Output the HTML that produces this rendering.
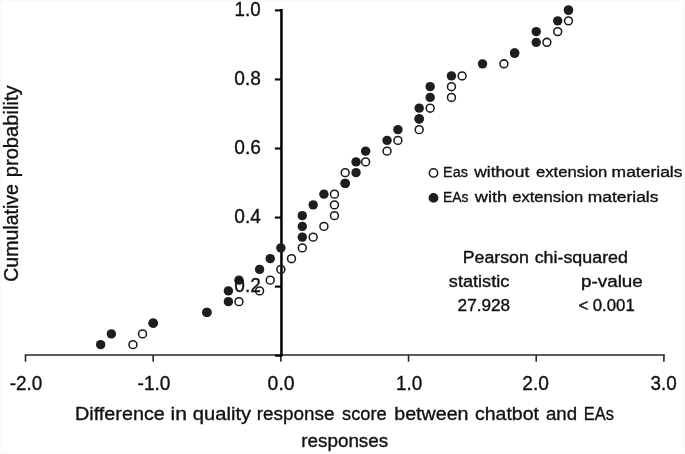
<!DOCTYPE html>
<html><head><meta charset="utf-8"><title>Chart</title>
<style>
html,body{margin:0;padding:0;background:#fff;}
body{width:685px;height:454px;overflow:hidden;}
svg{display:block;filter:blur(0.3px);font-family:"Liberation Sans",sans-serif;fill:#111;}
text{stroke:#111;stroke-width:0.35px;}
</style></head>
<body>
<svg width="685" height="454" viewBox="0 0 685 454">
<rect x="0" y="0" width="685" height="454" fill="#fafafa"/>
<rect x="2" y="2" width="681" height="450" fill="#ffffff"/>
<line x1="24.8" y1="355" x2="664.8" y2="355" stroke="#262626" stroke-width="1.6"/>
<line x1="25.50" y1="355" x2="25.50" y2="361.7" stroke="#262626" stroke-width="1.6"/>
<line x1="153.18" y1="355" x2="153.18" y2="361.7" stroke="#262626" stroke-width="1.6"/>
<line x1="280.86" y1="355" x2="280.86" y2="361.7" stroke="#262626" stroke-width="1.6"/>
<line x1="408.54" y1="355" x2="408.54" y2="361.7" stroke="#262626" stroke-width="1.6"/>
<line x1="536.22" y1="355" x2="536.22" y2="361.7" stroke="#262626" stroke-width="1.6"/>
<line x1="663.90" y1="355" x2="663.90" y2="361.7" stroke="#262626" stroke-width="1.6"/>
<line x1="281.45" y1="9.1" x2="281.45" y2="356.5" stroke="#000" stroke-width="2.5"/>
<line x1="274.9" y1="355.65" x2="281.65" y2="355.65" stroke="#000" stroke-width="2.1"/>
<line x1="274.9" y1="286.60" x2="281.65" y2="286.60" stroke="#000" stroke-width="2.1"/>
<line x1="274.9" y1="217.55" x2="281.65" y2="217.55" stroke="#000" stroke-width="2.1"/>
<line x1="274.9" y1="148.50" x2="281.65" y2="148.50" stroke="#000" stroke-width="2.1"/>
<line x1="274.9" y1="79.45" x2="281.65" y2="79.45" stroke="#000" stroke-width="2.1"/>
<line x1="274.9" y1="10.40" x2="281.65" y2="10.40" stroke="#000" stroke-width="2.1"/>
<circle cx="132.96" cy="344.65" r="3.95" fill="none" stroke="#1a1a1a" stroke-width="1.55"/>
<circle cx="142.54" cy="333.90" r="3.95" fill="none" stroke="#1a1a1a" stroke-width="1.55"/>
<circle cx="153.18" cy="323.15" r="3.95" fill="none" stroke="#1a1a1a" stroke-width="1.55"/>
<circle cx="206.91" cy="312.40" r="3.95" fill="none" stroke="#1a1a1a" stroke-width="1.55"/>
<circle cx="238.94" cy="301.65" r="3.95" fill="none" stroke="#1a1a1a" stroke-width="1.55"/>
<circle cx="259.58" cy="290.90" r="3.95" fill="none" stroke="#1a1a1a" stroke-width="1.55"/>
<circle cx="270.22" cy="280.15" r="3.95" fill="none" stroke="#1a1a1a" stroke-width="1.55"/>
<circle cx="280.86" cy="269.40" r="3.95" fill="none" stroke="#1a1a1a" stroke-width="1.55"/>
<circle cx="291.50" cy="258.65" r="3.95" fill="none" stroke="#1a1a1a" stroke-width="1.55"/>
<circle cx="302.29" cy="247.90" r="3.95" fill="none" stroke="#1a1a1a" stroke-width="1.55"/>
<circle cx="313.18" cy="237.15" r="3.95" fill="none" stroke="#1a1a1a" stroke-width="1.55"/>
<circle cx="323.92" cy="226.40" r="3.95" fill="none" stroke="#1a1a1a" stroke-width="1.55"/>
<circle cx="334.46" cy="215.65" r="3.95" fill="none" stroke="#1a1a1a" stroke-width="1.55"/>
<circle cx="334.46" cy="204.90" r="3.95" fill="none" stroke="#1a1a1a" stroke-width="1.55"/>
<circle cx="334.46" cy="194.15" r="3.95" fill="none" stroke="#1a1a1a" stroke-width="1.55"/>
<circle cx="345.20" cy="183.40" r="3.95" fill="none" stroke="#1a1a1a" stroke-width="1.55"/>
<circle cx="345.20" cy="172.65" r="3.95" fill="none" stroke="#1a1a1a" stroke-width="1.55"/>
<circle cx="365.63" cy="161.90" r="3.95" fill="none" stroke="#1a1a1a" stroke-width="1.55"/>
<circle cx="387.06" cy="151.15" r="3.95" fill="none" stroke="#1a1a1a" stroke-width="1.55"/>
<circle cx="397.90" cy="140.40" r="3.95" fill="none" stroke="#1a1a1a" stroke-width="1.55"/>
<circle cx="419.18" cy="129.65" r="3.95" fill="none" stroke="#1a1a1a" stroke-width="1.55"/>
<circle cx="419.18" cy="118.90" r="3.95" fill="none" stroke="#1a1a1a" stroke-width="1.55"/>
<circle cx="430.17" cy="108.15" r="3.95" fill="none" stroke="#1a1a1a" stroke-width="1.55"/>
<circle cx="451.45" cy="97.40" r="3.95" fill="none" stroke="#1a1a1a" stroke-width="1.55"/>
<circle cx="451.45" cy="86.65" r="3.95" fill="none" stroke="#1a1a1a" stroke-width="1.55"/>
<circle cx="462.09" cy="75.90" r="3.95" fill="none" stroke="#1a1a1a" stroke-width="1.55"/>
<circle cx="503.95" cy="63.85" r="3.95" fill="none" stroke="#1a1a1a" stroke-width="1.55"/>
<circle cx="514.64" cy="53.10" r="3.95" fill="none" stroke="#1a1a1a" stroke-width="1.55"/>
<circle cx="546.86" cy="42.35" r="3.95" fill="none" stroke="#1a1a1a" stroke-width="1.55"/>
<circle cx="557.70" cy="31.60" r="3.95" fill="none" stroke="#1a1a1a" stroke-width="1.55"/>
<circle cx="568.49" cy="20.85" r="3.95" fill="none" stroke="#1a1a1a" stroke-width="1.55"/>
<circle cx="568.49" cy="10.10" r="3.95" fill="none" stroke="#1a1a1a" stroke-width="1.55"/>
<circle cx="100.62" cy="344.65" r="4.7" fill="#1e1e1e"/>
<circle cx="111.36" cy="333.90" r="4.7" fill="#1e1e1e"/>
<circle cx="153.18" cy="323.15" r="4.7" fill="#1e1e1e"/>
<circle cx="206.91" cy="312.40" r="4.7" fill="#1e1e1e"/>
<circle cx="228.40" cy="301.65" r="4.7" fill="#1e1e1e"/>
<circle cx="228.40" cy="290.90" r="4.7" fill="#1e1e1e"/>
<circle cx="238.94" cy="280.15" r="4.7" fill="#1e1e1e"/>
<circle cx="259.58" cy="269.40" r="4.7" fill="#1e1e1e"/>
<circle cx="270.22" cy="258.65" r="4.7" fill="#1e1e1e"/>
<circle cx="280.86" cy="247.90" r="4.7" fill="#1e1e1e"/>
<circle cx="302.29" cy="237.15" r="4.7" fill="#1e1e1e"/>
<circle cx="302.29" cy="226.40" r="4.7" fill="#1e1e1e"/>
<circle cx="302.29" cy="215.65" r="4.7" fill="#1e1e1e"/>
<circle cx="313.18" cy="204.90" r="4.7" fill="#1e1e1e"/>
<circle cx="323.92" cy="194.15" r="4.7" fill="#1e1e1e"/>
<circle cx="345.20" cy="183.40" r="4.7" fill="#1e1e1e"/>
<circle cx="356.04" cy="172.65" r="4.7" fill="#1e1e1e"/>
<circle cx="356.04" cy="161.90" r="4.7" fill="#1e1e1e"/>
<circle cx="365.63" cy="151.15" r="4.7" fill="#1e1e1e"/>
<circle cx="387.06" cy="140.40" r="4.7" fill="#1e1e1e"/>
<circle cx="397.90" cy="129.65" r="4.7" fill="#1e1e1e"/>
<circle cx="419.18" cy="118.90" r="4.7" fill="#1e1e1e"/>
<circle cx="419.18" cy="108.15" r="4.7" fill="#1e1e1e"/>
<circle cx="430.17" cy="97.40" r="4.7" fill="#1e1e1e"/>
<circle cx="430.17" cy="86.65" r="4.7" fill="#1e1e1e"/>
<circle cx="451.45" cy="75.90" r="4.7" fill="#1e1e1e"/>
<circle cx="482.52" cy="63.85" r="4.7" fill="#1e1e1e"/>
<circle cx="514.64" cy="53.10" r="4.7" fill="#1e1e1e"/>
<circle cx="536.22" cy="42.35" r="4.7" fill="#1e1e1e"/>
<circle cx="536.22" cy="31.60" r="4.7" fill="#1e1e1e"/>
<circle cx="557.70" cy="20.85" r="4.7" fill="#1e1e1e"/>
<circle cx="568.49" cy="10.10" r="4.7" fill="#1e1e1e"/>
<circle cx="433.5" cy="172.9" r="4.15" fill="none" stroke="#1a1a1a" stroke-width="1.55"/>
<circle cx="433.5" cy="197.9" r="4.9" fill="#1e1e1e"/>
<text x="9.70" y="389.80" font-size="20.4" textLength="32.62" lengthAdjust="spacingAndGlyphs">-2.0</text>
<text x="137.50" y="389.80" font-size="20.4" textLength="33.02" lengthAdjust="spacingAndGlyphs">-1.0</text>
<text x="267.60" y="389.80" font-size="20.4" textLength="27.02" lengthAdjust="spacingAndGlyphs">0.0</text>
<text x="395.97" y="389.80" font-size="20.4" textLength="26.35" lengthAdjust="spacingAndGlyphs">1.0</text>
<text x="522.36" y="389.80" font-size="20.4" textLength="26.66" lengthAdjust="spacingAndGlyphs">2.0</text>
<text x="650.60" y="389.80" font-size="20.4" textLength="26.21" lengthAdjust="spacingAndGlyphs">3.0</text>
<text x="234.58" y="16.20" font-size="20.4" textLength="26.03" lengthAdjust="spacingAndGlyphs">1.0</text>
<text x="234.30" y="85.25" font-size="20.4" textLength="26.62" lengthAdjust="spacingAndGlyphs">0.8</text>
<text x="234.30" y="154.30" font-size="20.4" textLength="26.62" lengthAdjust="spacingAndGlyphs">0.6</text>
<text x="234.30" y="223.35" font-size="20.4" textLength="26.62" lengthAdjust="spacingAndGlyphs">0.4</text>
<text x="234.30" y="292.40" font-size="20.4" textLength="26.62" lengthAdjust="spacingAndGlyphs">0.2</text>
<text x="75.06" y="420.00" font-size="19.1" textLength="89.78" lengthAdjust="spacingAndGlyphs">Difference</text>
<text x="170.60" y="420.00" font-size="19.1" textLength="16.39" lengthAdjust="spacingAndGlyphs">in</text>
<text x="192.80" y="420.00" font-size="19.1" textLength="58.32" lengthAdjust="spacingAndGlyphs">quality</text>
<text x="256.81" y="420.00" font-size="19.1" textLength="77.80" lengthAdjust="spacingAndGlyphs">response</text>
<text x="342.00" y="420.00" font-size="19.1" textLength="44.79" lengthAdjust="spacingAndGlyphs">score</text>
<text x="394.27" y="420.00" font-size="19.1" textLength="74.27" lengthAdjust="spacingAndGlyphs">between</text>
<text x="475.00" y="420.00" font-size="19.1" textLength="63.99" lengthAdjust="spacingAndGlyphs">chatbot</text>
<text x="546.00" y="420.00" font-size="19.1" textLength="31.10" lengthAdjust="spacingAndGlyphs">and</text>
<text x="583.84" y="420.00" font-size="19.1" textLength="30.03" lengthAdjust="spacingAndGlyphs">EAs</text>
<text x="301.21" y="446.70" font-size="19.1" textLength="87.03" lengthAdjust="spacingAndGlyphs">responses</text>
<text x="443.07" y="177.00" font-size="15.5" stroke-width="0.12" textLength="24.80" lengthAdjust="spacingAndGlyphs">Eas</text>
<text x="474.32" y="177.00" font-size="15.5" stroke-width="0.12" textLength="54.91" lengthAdjust="spacingAndGlyphs">without</text>
<text x="536.00" y="177.00" font-size="15.5" stroke-width="0.12" textLength="71.17" lengthAdjust="spacingAndGlyphs">extension</text>
<text x="611.57" y="177.00" font-size="15.5" stroke-width="0.12" textLength="70.95" lengthAdjust="spacingAndGlyphs">materials</text>
<text x="443.10" y="202.10" font-size="15.5" stroke-width="0.12" textLength="25.47" lengthAdjust="spacingAndGlyphs">EAs</text>
<text x="474.78" y="202.10" font-size="15.5" stroke-width="0.12" textLength="32.45" lengthAdjust="spacingAndGlyphs">with</text>
<text x="512.20" y="202.10" font-size="15.5" stroke-width="0.12" textLength="71.06" lengthAdjust="spacingAndGlyphs">extension</text>
<text x="587.78" y="202.10" font-size="15.5" stroke-width="0.12" textLength="70.64" lengthAdjust="spacingAndGlyphs">materials</text>
<text x="462.66" y="262.90" font-size="15.6" stroke-width="0.12" textLength="66.21" lengthAdjust="spacingAndGlyphs">Pearson</text>
<text x="534.70" y="262.90" font-size="15.6" stroke-width="0.12" textLength="93.27" lengthAdjust="spacingAndGlyphs">chi-squared</text>
<text x="448.80" y="286.90" font-size="15.6" stroke-width="0.12" textLength="60.56" lengthAdjust="spacingAndGlyphs">statistic</text>
<text x="580.99" y="286.90" font-size="15.6" stroke-width="0.12" textLength="61.82" lengthAdjust="spacingAndGlyphs">p-value</text>
<text x="457.60" y="311.10" font-size="15.6" stroke-width="0.12" textLength="52.44" lengthAdjust="spacingAndGlyphs">27.928</text>
<text x="578.40" y="311.10" font-size="15.6" stroke-width="0.12" textLength="56.32" lengthAdjust="spacingAndGlyphs">&lt; 0.001</text>
<text transform="translate(18.0,280.8) rotate(-90)" x="-0.95" y="0" font-size="20.6" textLength="97.58" lengthAdjust="spacingAndGlyphs">Cumulative</text>
<text transform="translate(18.0,280.8) rotate(-90)" x="103.52" y="0" font-size="20.6" textLength="91.89" lengthAdjust="spacingAndGlyphs">probability</text>
</svg>
</body></html>
